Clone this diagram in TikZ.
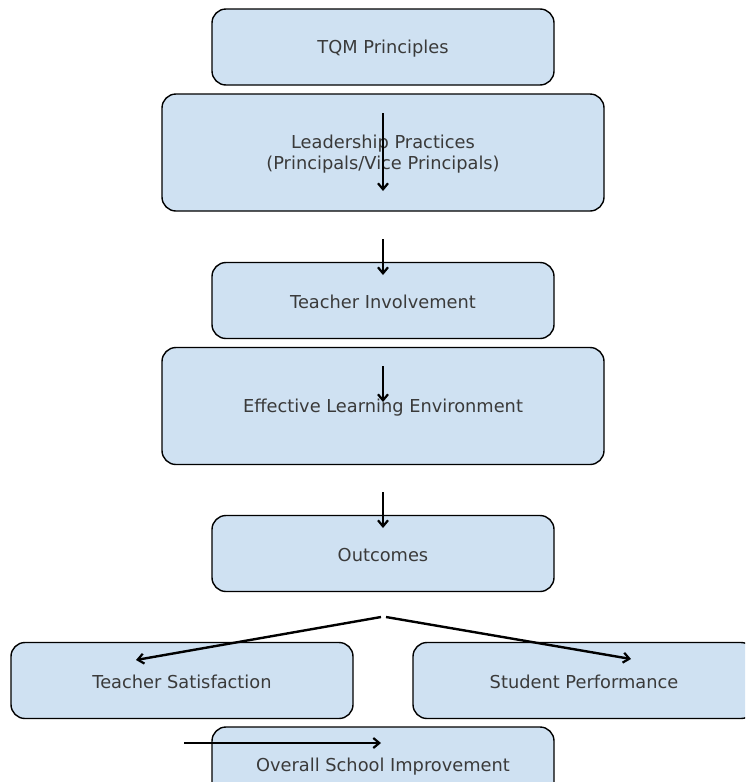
\documentclass[tikz,border=0pt]{standalone}
\usepackage{fontspec}
\setmainfont{DejaVu Sans}
\usetikzlibrary{arrows.meta}
\definecolor{boxfill}{HTML}{CFE1F2}
\definecolor{txt}{HTML}{3A3A3A}
\begin{document}
\begin{tikzpicture}[x=1pt,y=-1pt,
  boxtext/.style={text=txt, font=\fontsize{17.8}{21}\selectfont, align=center, inner sep=0pt, yshift=-1.5pt},
  box/.style={draw=black, line width=1.4pt, fill=boxfill, rounded corners=14pt,
    minimum width=342pt, minimum height=76pt, inner sep=0pt,
    label={[boxtext]center:#1}},
  widebox/.style={box=#1, minimum width=442pt, minimum height=117pt},
  flow/.style={draw=black, line width=2.4pt, -{Straight Barb[length=6pt,width=10pt,line width=2.2pt]}}]
\useasboundingbox (0,0) rectangle (745,782);
\fill[white] (0,0) rectangle (745,782);
\clip (0,0) rectangle (745,782);
\node[box={TQM Principles}] (tqm) at (383,47) {};
\node[widebox={Leadership Practices\\(Principals/Vice Principals)}] (lead) at (383,152.5) {};
\node[box={Teacher Involvement}] (teach) at (383,300.5) {};
\node[widebox={Effective Learning Environment}] (env) at (383,406) {};
\node[box={Outcomes}] (out) at (383,553.5) {};
\node[box={Teacher Satisfaction}] (sat) at (182,680.5) {};
\node[box={Student Performance}] (perf) at (584,680.5) {};
\node[box={Overall School Improvement}] (over) at (383,765) {};
\coordinate (a1s) at (383,113); \coordinate (a1e) at (383,191);
\coordinate (a2s) at (383,239); \coordinate (a2e) at (383,275);
\coordinate (a3s) at (383,366); \coordinate (a3e) at (383,402);
\coordinate (a4s) at (383,492); \coordinate (a4e) at (383,528);
\coordinate (a5s) at (381,617); \coordinate (a5e) at (136,660);
\coordinate (a6s) at (386,617); \coordinate (a6e) at (631,659);
\coordinate (a7s) at (184,743); \coordinate (a7e) at (381,743);
\draw[flow] (a1s) -- (a1e);
\draw[flow] (a2s) -- (a2e);
\draw[flow] (a3s) -- (a3e);
\draw[flow] (a4s) -- (a4e);
\draw[flow] (a5s) -- (a5e);
\draw[flow] (a6s) -- (a6e);
\draw[flow] (a7s) -- (a7e);
\end{tikzpicture}
\end{document}
